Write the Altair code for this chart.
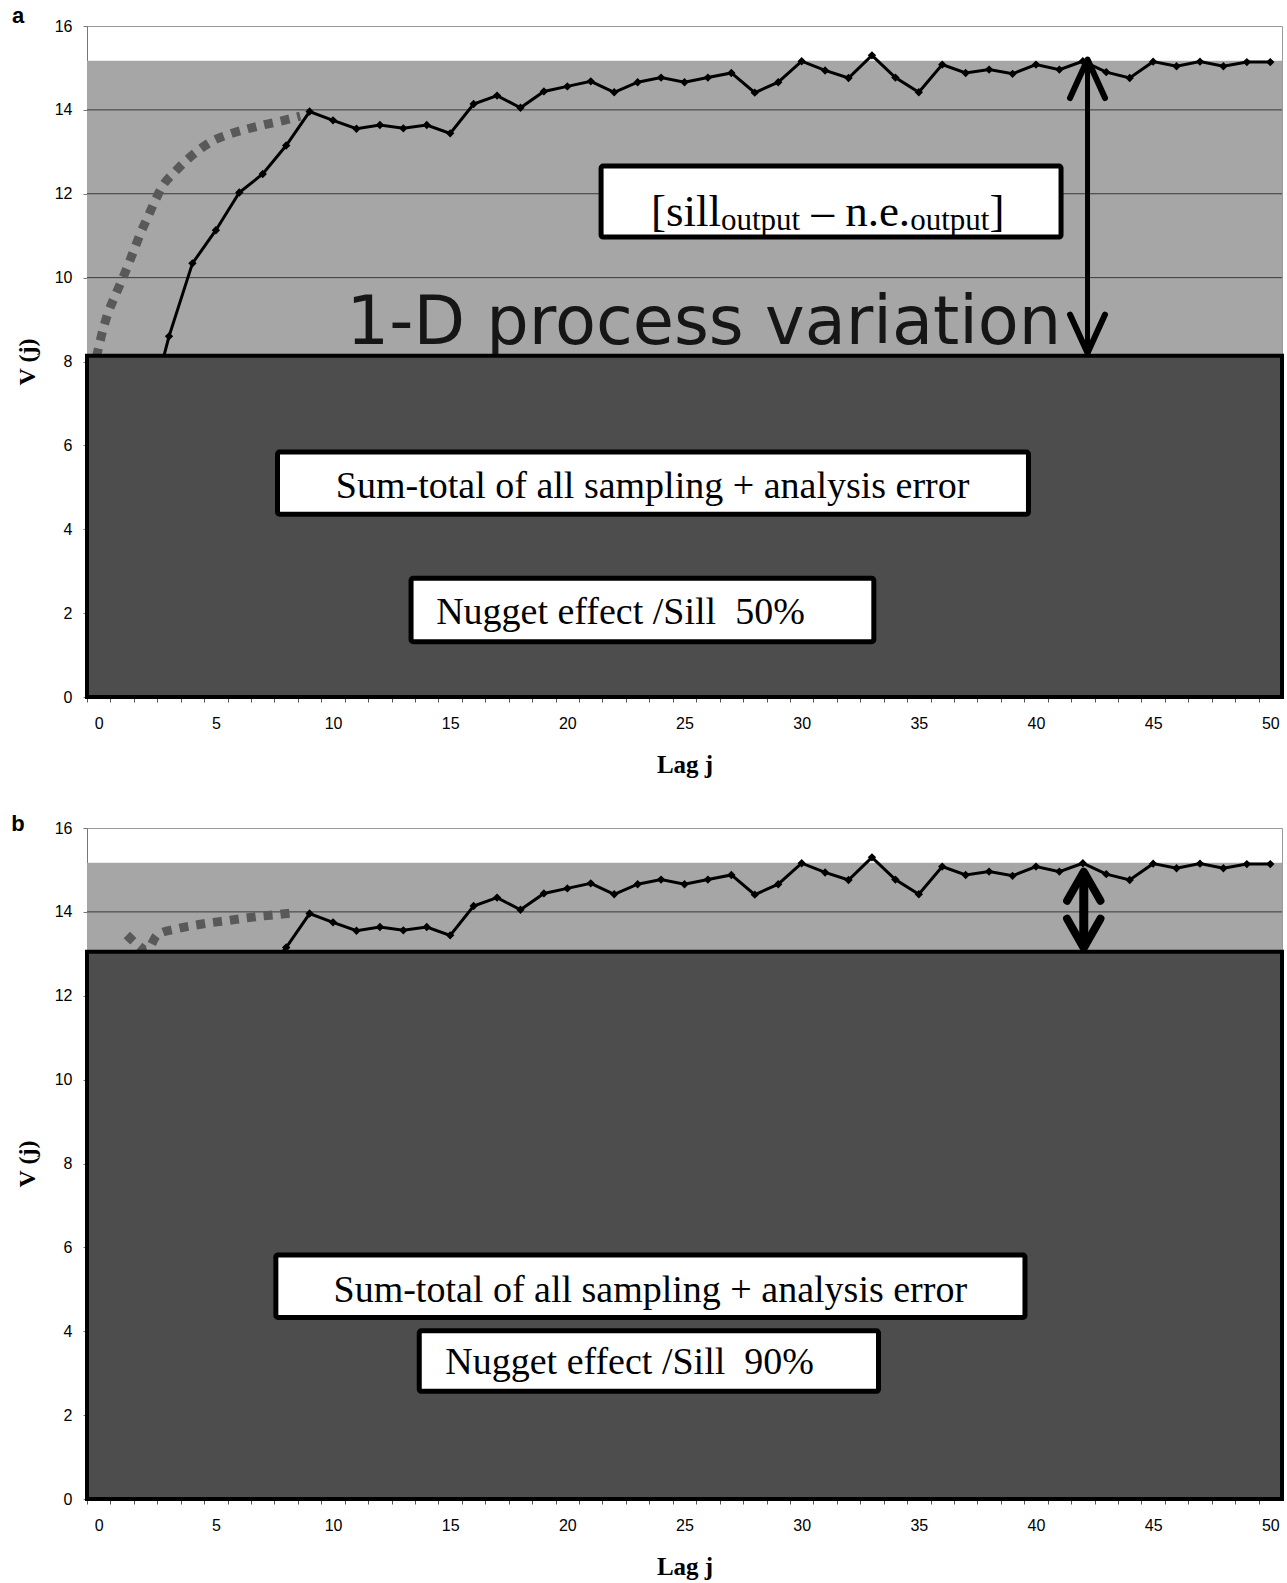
import altair as alt
import pandas as pd

# ---------------- data ----------------
LAGS = list(range(2, 51))
V_OBS = [6.45, 8.6, 10.34, 11.13, 12.03, 12.47, 13.15, 13.96, 13.75, 13.55, 13.64, 13.56, 13.64, 13.44,
         14.14, 14.34, 14.05, 14.44, 14.56, 14.68, 14.42, 14.66, 14.77, 14.66, 14.77, 14.88, 14.41, 14.66,
         15.16, 14.94, 14.76, 15.30, 14.77, 14.42, 15.08, 14.88, 14.96, 14.86, 15.08, 14.96, 15.16, 14.90,
         14.76, 15.15, 15.04, 15.15, 15.04, 15.14, 15.14]

MODEL_A_LAG = [-0.1, 0.17, 0.38, 0.67, 0.95, 1.24, 1.52, 1.80, 2.09, 2.37, 2.73, 3.23, 3.73, 4.22,
               4.86, 5.57, 6.29, 7.0, 7.75, 8.6]
MODEL_A_V = [8.1, 8.73, 9.13, 9.53, 9.89, 10.28, 10.68, 11.08, 11.44, 11.79, 12.19, 12.51, 12.79, 13.02,
             13.26, 13.42, 13.54, 13.64, 13.73, 13.85]

MODEL_B_LAG = [1.2, 1.65, 2.05, 2.5, 3.34, 3.98, 4.76, 5.48, 6.23, 6.94, 7.68, 8.46]
MODEL_B_V = [13.45, 13.22, 13.08, 13.45, 13.60, 13.67, 13.74, 13.79, 13.85, 13.90, 13.94, 13.99]

SILL = 15.17
NUGGET_A = 8.14
NUGGET_B = 13.05
LAG_MIN, LAG_MAX = -0.5, 50.5
GRID_V = [2, 4, 6, 8, 10, 12, 14]
Y_TICKS = [0, 2, 4, 6, 8, 10, 12, 14, 16]
X_TICKS = list(range(0, 51))

PANEL_LETTERS = ["a", "b"]
TITLE_TEXT = "1-D process variation"
SUM_TEXT = "Sum-total of all sampling + analysis error"
NUGGET_TEXTS = ["Nugget effect /Sill\u00a0 50%", "Nugget effect /Sill\u00a0 90%"]

# boxes: [lag_left, lag_right, v_bottom, v_top]
BOX_SILL_A = [21.44, 41.07, 10.97, 12.66]
BOX_SUM_A = [7.63, 39.68, 4.36, 5.84]
BOX_NUG_A = [13.33, 33.08, 1.32, 2.83]
BOX_SUM_B = [7.56, 39.53, 4.33, 5.82]
BOX_NUG_B = [13.68, 33.28, 2.57, 4.01]

# text anchors: (lag, v)
SUM_TXT_A = (23.64, 4.75)
NUG_TXT_A = (14.4, 1.74)
SUM_TXT_B = (23.54, 4.69)
NUG_TXT_B = (14.79, 2.98)
SILL_TXT_A = (23.57, 11.23)
BIG_TXT_A = (25.83, 8.42)

# arrows: lag, top v, bottom v
ARROW_A = (42.2, 15.2, 8.2)
ARROW_B = (42.04, 14.96, 13.14)

W, H = 1195, 671
SERIF = "Liberation Serif"
SANS = "Liberation Sans"

XS = alt.Scale(domain=[LAG_MIN, LAG_MAX], nice=False, zero=False)
YS = alt.Scale(domain=[0, 16], nice=False, zero=False)
HALF = W / (LAG_MAX - LAG_MIN) / 2

X_AXIS = alt.Axis(values=X_TICKS, labelExpr="datum.value % 5 == 0 ? datum.label : ''",
                  tickOffset=-HALF, labelOffset=HALF, labelOverlap=False, labelFlush=False,
                  grid=False, tickSize=5, tickColor="#555555", domainColor="#777777",
                  labelFont=SANS, labelFontSize=16, labelColor="black", labelPadding=13,
                  title="Lag j", titleFont=SERIF, titleFontSize=25, titleFontWeight="bold",
                  titleColor="black", titleY=67, titleBaseline="middle")
Y_AXIS = alt.Axis(values=Y_TICKS, grid=False, tickSize=4, tickColor="#777777", domainColor="#777777",
                  labelFont=SANS, labelFontSize=16, labelColor="black", labelPadding=11,
                  title="V (j)", titleFont=SERIF, titleFontSize=24, titleFontWeight="bold",
                  titleColor="black", titleX=-60, titleY=H / 2, titleBaseline="middle", titleAngle=270)


def xq(f):
    return alt.X(f, type="quantitative", scale=XS, axis=X_AXIS)


def yq(f):
    return alt.Y(f, type="quantitative", scale=YS, axis=Y_AXIS)


def rect_df(box):
    return pd.DataFrame({"x0": [box[0]], "x1": [box[1]], "y0": [box[2]], "y1": [box[3]]})


def panel(nugget, model_lag, model_v, sum_box, nug_box, sum_txt, nug_txt, nug_label, arrow,
          letter, letter_y, head, extra_under=None, extra_over=None):
    layers = []
    band = alt.Chart(rect_df([LAG_MIN, LAG_MAX, nugget, SILL])).mark_rect(color="#a6a6a6").encode(
        x=xq("x0"), x2="x1", y=yq("y0"), y2="y1")
    layers.append(band)
    grid = alt.Chart(pd.DataFrame({"v": GRID_V})).mark_rule(color="#3a3a3a", strokeWidth=1).encode(
        y=yq("v"))
    layers.append(grid)
    if extra_under:
        layers += extra_under
    model = alt.Chart(pd.DataFrame({"lag": model_lag, "v": model_v})).mark_line(
        color="#595959", strokeWidth=9, strokeDash=[9, 8], strokeCap="butt",
        interpolate="monotone").encode(x=xq("lag"), y=yq("v"), order="lag:Q")
    layers.append(model)
    obs_df = pd.DataFrame({"lag": LAGS, "v": V_OBS})
    obs = alt.Chart(obs_df).mark_line(color="black", strokeWidth=3).encode(x=xq("lag"), y=yq("v"))
    pts = alt.Chart(obs_df).mark_point(shape="diamond", filled=True, size=70, color="black",
                                       opacity=1).encode(x=xq("lag"), y=yq("v"))
    layers += [obs, pts]
    dark = alt.Chart(rect_df([LAG_MIN, LAG_MAX, 0, nugget])).mark_rect(
        fill="#4d4d4d", stroke="black", strokeWidth=4).encode(x=xq("x0"), x2="x1", y=yq("y0"), y2="y1")
    layers.append(dark)
    for box in (sum_box, nug_box):
        layers.append(alt.Chart(rect_df(box)).mark_rect(
            fill="white", stroke="black", strokeWidth=5, cornerRadius=2).encode(
            x=xq("x0"), x2="x1", y=yq("y0"), y2="y1"))
    layers.append(alt.Chart(pd.DataFrame({"lag": [sum_txt[0]], "v": [sum_txt[1]], "t": [SUM_TEXT]}))
                  .mark_text(font=SERIF, fontSize=38, align="center", baseline="alphabetic", color="black")
                  .encode(x=xq("lag"), y=yq("v"), text="t:N"))
    layers.append(alt.Chart(pd.DataFrame({"lag": [nug_txt[0]], "v": [nug_txt[1]], "t": [nug_label]}))
                  .mark_text(font=SERIF, fontSize=38, align="left", baseline="alphabetic", color="black")
                  .encode(x=xq("lag"), y=yq("v"), text="t:N"))
    if extra_over:
        layers += extra_over
    # arrow: shaft + two open chevron heads
    size, sw, shaft, ratio = head
    adf = pd.DataFrame({"lag": [arrow[0]], "top": [arrow[1]], "bot": [arrow[2]]})
    layers.append(alt.Chart(adf).mark_rule(color="black", strokeWidth=shaft, strokeCap="butt").encode(
        x=xq("lag"), y=yq("top"), y2="bot"))
    layers.append(alt.Chart(adf).mark_point(shape=f"M-1,{ratio}L0,0L1,{ratio}", filled=False, size=size,
                                            stroke="black", strokeWidth=sw, opacity=1,
                                            strokeCap="round", strokeJoin="round").encode(
        x=xq("lag"), y=yq("top")))
    layers.append(alt.Chart(adf).mark_point(shape=f"M-1,-{ratio}L0,0L1,-{ratio}", filled=False, size=size,
                                            stroke="black", strokeWidth=sw, opacity=1,
                                            strokeCap="round", strokeJoin="round").encode(
        x=xq("lag"), y=yq("bot")))
    layers.append(alt.Chart(pd.DataFrame({"t": [letter]})).mark_text(
        font=SANS, fontSize=22, fontWeight="bold", align="center", baseline="middle", color="black").encode(
        x=alt.value(-69), y=alt.value(letter_y), text="t:N"))
    return alt.layer(*layers).properties(width=W, height=H)


big = alt.Chart(pd.DataFrame({"lag": [BIG_TXT_A[0]], "v": [BIG_TXT_A[1]], "t": [TITLE_TEXT]})).mark_text(
    font="DejaVu Sans", fontSize=67, align="center", baseline="alphabetic", color="#161616").encode(
    x=xq("lag"), y=yq("v"), text="t:N")

sill_box = alt.Chart(rect_df(BOX_SILL_A)).mark_rect(
    fill="white", stroke="black", strokeWidth=5, cornerRadius=2).encode(
    x=xq("x0"), x2="x1", y=yq("y0"), y2="y1")

SILL_PIECES = ["[sill", "output", "\u2013 n.e.", "output", "]"]
PIECE_SIZE = [45, 31, 45, 31, 45]
PIECE_DX = [0, 70, 160.4, 259.2, 338.4]
PIECE_DY = [0, 4, 0, 4, 0]
sill_txt = []
for p, s, dx, dy in zip(SILL_PIECES, PIECE_SIZE, PIECE_DX, PIECE_DY):
    sill_txt.append(alt.Chart(pd.DataFrame({"lag": [SILL_TXT_A[0]], "v": [SILL_TXT_A[1]], "t": [p]})).mark_text(
        font=SERIF, fontSize=s, align="left", baseline="alphabetic", color="black", dx=dx, dy=dy).encode(
        x=xq("lag"), y=yq("v"), text="t:N"))

panel_a = panel(NUGGET_A, MODEL_A_LAG, MODEL_A_V, BOX_SUM_A, BOX_NUG_A, SUM_TXT_A, NUG_TXT_A,
                NUGGET_TEXTS[0], ARROW_A, PANEL_LETTERS[0], -10, (1225, 6, 5, 2.2),
                extra_under=[big], extra_over=[sill_box] + sill_txt)
panel_b = panel(NUGGET_B, MODEL_B_LAG, MODEL_B_V, BOX_SUM_B, BOX_NUG_B, SUM_TXT_B, NUG_TXT_B,
                NUGGET_TEXTS[1], ARROW_B, PANEL_LETTERS[1], -4, (1115, 8, 9, 1.75))

chart = alt.vconcat(panel_a, panel_b, spacing=131, bounds="flush").configure(
    padding={"left": 10, "top": 4, "right": 0, "bottom": 0}, background="white").configure_view(
    stroke="#999999", strokeWidth=1)

chart.save("out.html", embed_options={"renderer": "svg", "actions": False})
